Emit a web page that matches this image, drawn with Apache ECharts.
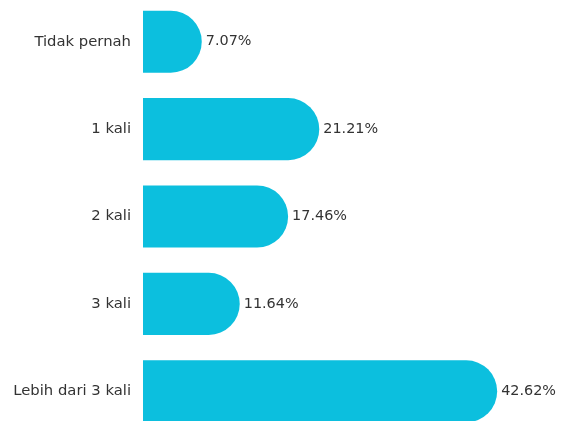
<!DOCTYPE html>
<html><head><meta charset="utf-8">
<script src="https://cdn.jsdelivr.net/npm/echarts@6/dist/echarts.min.js"></script>
<style>html,body{margin:0;padding:0;background:#fff}#c{width:561px;height:421px}</style>
</head><body><div id="c"></div>
<script>
const categories = ['Tidak pernah', '1 kali', '2 kali', '3 kali', 'Lebih dari 3 kali'];
const values = [7.07, 21.21, 17.46, 11.64, 42.62];
const chart = echarts.init(document.getElementById('c'), null, {renderer: 'canvas'});
chart.setOption({
  animation: false,
  grid: {left: 143, width: 415.5, top: -2, height: 437, outerBoundsMode: 'none', containLabel: false},
  xAxis: {type: 'value', min: 0, max: 50, show: false},
  yAxis: {
    type: 'category', inverse: true, data: categories,
    axisLine: {show: false}, axisTick: {show: false},
    axisLabel: {margin: 12, color: '#333', fontSize: 14.8, fontFamily: 'DejaVu Sans'}
  },
  series: [{
    type: 'bar', data: values, barCategoryGap: '29%',
    itemStyle: {color: '#0CBFDE', borderRadius: [0, 31, 31, 0]},
    label: {show: true, position: 'right', distance: 4, color: '#333', fontSize: 14.4, fontFamily: 'DejaVu Sans',
      formatter: p => p.value.toFixed(2) + '%'}
  }]
});
</script></body></html>
